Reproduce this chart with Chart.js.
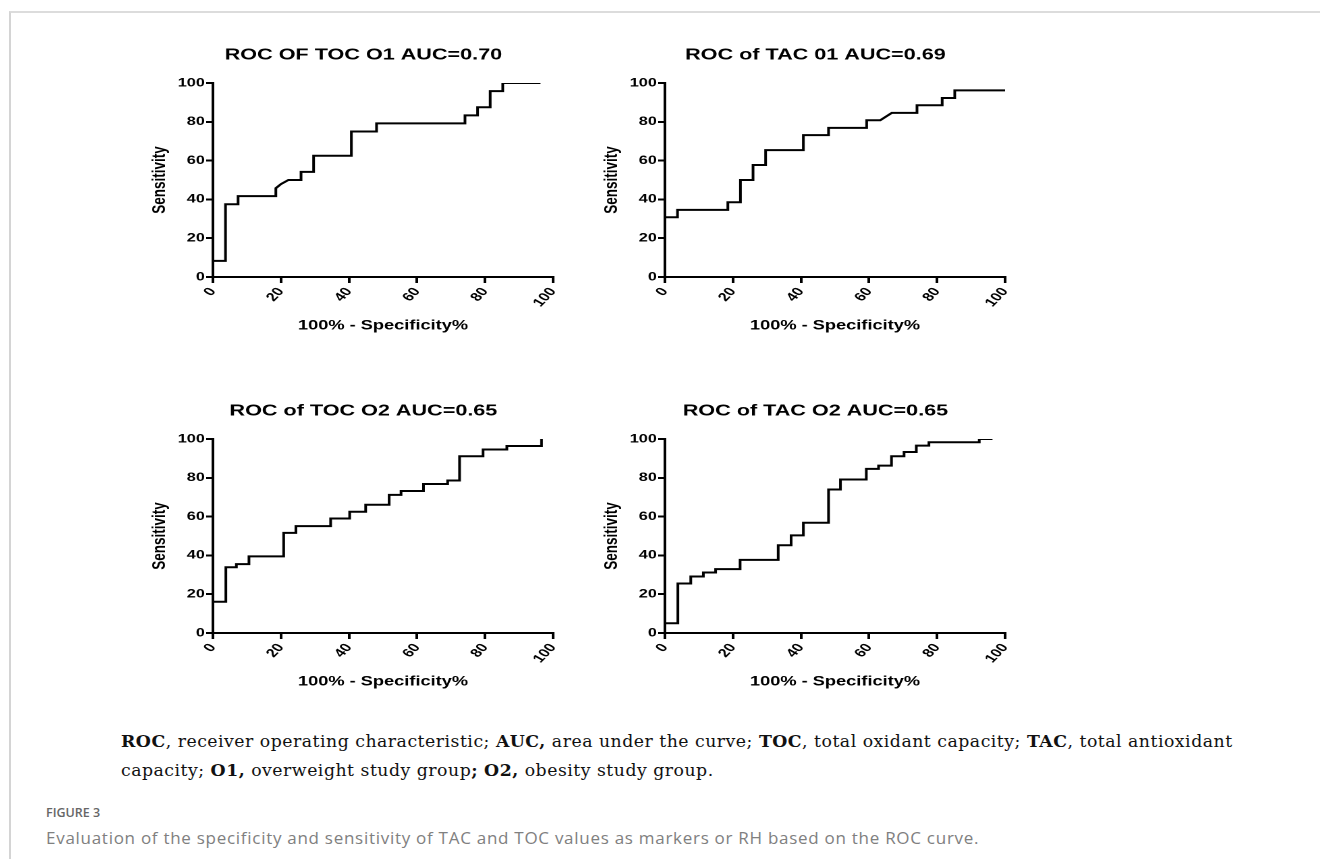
<!DOCTYPE html>
<html>
<head>
<meta charset="utf-8">
<script src="https://cdn.jsdelivr.net/npm/chart.js@4.4.1/dist/chart.umd.min.js"></script>
<style>
  html, body { margin: 0; padding: 0; background: #fff; }
  body { width: 1320px; height: 859px; position: relative; overflow: hidden; }
  .frame { position: absolute; left: 9px; top: 11px; right: -5px; bottom: -5px;
           border-top: 2px solid #dcdcdc; border-left: 2px solid #d4d4d4; }
  .wrap { position: absolute; width: 322px; height: 304px;
          transform: scaleX(1.35); transform-origin: 0 0; }
  .note { position: absolute; left: 121px; font-family: "DejaVu Serif", serif;
          font-size: 17.3px; letter-spacing: 0.5px; line-height: 20px; color: #111; white-space: nowrap; }
  .fig { position: absolute; left: 46px; top: 805px; font-family: "Open Sans", sans-serif;
         font-size: 12.5px; line-height: 16px; font-weight: 600; color: #666; }
  .cap { position: absolute; left: 46px; top: 827px; font-family: "Open Sans", sans-serif;
         font-size: 17px; letter-spacing: 0.72px; line-height: 22px; color: #808080; white-space: nowrap; }
</style>
</head>
<body>
<div class="frame"></div>

<div class="wrap" style="left:140px; top:30px;"><canvas id="c1"></canvas></div>
<div class="wrap" style="left:592px; top:30px;"><canvas id="c2"></canvas></div>
<div class="wrap" style="left:140px; top:386px;"><canvas id="c3"></canvas></div>
<div class="wrap" style="left:592px; top:386px;"><canvas id="c4"></canvas></div>

<div class="note" style="top:731px;"><b>ROC</b>, receiver operating characteristic; <b>AUC,</b> area under the curve; <b>TOC</b>, total oxidant capacity; <b>TAC</b>, total antioxidant</div>
<div class="note" style="top:760px;">capacity; <b>O1,</b> overweight study group<b>;</b> <b>O2,</b> obesity study group.</div>
<div class="fig">FIGURE 3</div>
<div class="cap">Evaluation of the specificity and sensitivity of TAC and TOC values as markers or RH based on the ROC curve.</div>

<script>
// axis ticks
const xTicks = [0, 20, 40, 60, 80, 100];
const yTicks = [0, 20, 40, 60, 80, 100];

// ROC curve vertices (100% - specificity, sensitivity)
const tocO1X = [0, 3.7, 3.7, 7.4, 7.4, 18.5, 18.5, 20, 22.2, 25.9, 25.9, 29.6, 29.6, 40.7, 40.7, 48.1, 48.1, 74.1, 74.1, 77.8, 77.8, 81.5, 81.5, 85.2, 85.2, 96.3];
const tocO1Y = [8.3, 8.3, 37.5, 37.5, 41.7, 41.7, 45.8, 47.9, 50, 50, 54.2, 54.2, 62.5, 62.5, 75, 75, 79.2, 79.2, 83.3, 83.3, 87.5, 87.5, 95.8, 95.8, 100, 100];

const tacO1X = [0, 3.7, 3.7, 18.5, 18.5, 22.2, 22.2, 25.9, 25.9, 29.6, 29.6, 40.7, 40.7, 48.1, 48.1, 59.3, 59.3, 63.3, 66.7, 74.1, 74.1, 81.5, 81.5, 85.2, 85.2, 100];
const tacO1Y = [30.8, 30.8, 34.6, 34.6, 38.5, 38.5, 50, 50, 57.7, 57.7, 65.4, 65.4, 73.1, 73.1, 76.9, 76.9, 80.8, 80.8, 84.6, 84.6, 88.5, 88.5, 92.3, 92.3, 96.2, 96.2];

const tocO2X = [0, 3.8, 3.8, 6.9, 6.9, 10.6, 10.6, 20.8, 20.8, 24.4, 24.4, 34.6, 34.6, 40.2, 40.2, 44.9, 44.9, 51.8, 51.8, 55.3, 55.3, 61.9, 61.9, 69, 69, 72.5, 72.5, 79.4, 79.4, 86.4, 86.4, 96.6, 96.6];
const tocO2Y = [16.1, 16.1, 33.9, 33.9, 35.5, 35.5, 39.5, 39.5, 51.6, 51.6, 55.1, 55.1, 59, 59, 62.5, 62.5, 66.1, 66.1, 71.2, 71.2, 73.2, 73.2, 76.8, 76.8, 78.6, 78.6, 91.1, 91.1, 94.6, 94.6, 96.4, 96.4, 100];

const tacO2X = [0, 3.8, 3.8, 7.6, 7.6, 11.3, 11.3, 14.9, 14.9, 22.1, 22.1, 33.3, 33.3, 37.1, 37.1, 40.7, 40.7, 48.1, 48.1, 51.6, 51.6, 59.2, 59.2, 62.8, 62.8, 66.6, 66.6, 70.3, 70.3, 73.9, 73.9, 77.6, 77.6, 92.4, 92.4, 96.3];
const tacO2Y = [5, 5, 25.5, 25.5, 29.1, 29.1, 31.2, 31.2, 32.9, 32.9, 37.7, 37.7, 45.2, 45.2, 50.3, 50.3, 56.8, 56.8, 74, 74, 79.1, 79.1, 84.6, 84.6, 86.3, 86.3, 91.1, 91.1, 93.3, 93.3, 96.6, 96.6, 98.3, 98.3, 100, 100];

const FONT = '"Liberation Sans", Arial, sans-serif';

function makeChart(id, title, xs, ys) {
  const points = xs.map((x, i) => ({ x: x, y: ys[i] }));
  const axisLine = { display: true, color: '#000', width: 2 };
  const tickMarks = { drawOnChartArea: false, drawTicks: true, color: '#000', lineWidth: 2 };

  return new Chart(document.getElementById(id), {
    type: 'line',
    data: {
      datasets: [{
        data: points,
        borderColor: '#000',
        borderWidth: 2,
        pointRadius: 0,
        tension: 0,
        fill: false
      }]
    },
    options: {
      responsive: true,
      maintainAspectRatio: false,
      devicePixelRatio: 2,
      animation: false,
      // left padding shifts the centred title right; the y axis box is shrunk to match
      layout: { padding: { left: 25, right: 16, top: 0, bottom: 0 } },
      plugins: {
        legend: { display: false },
        tooltip: { enabled: false },
        title: {
          display: true,
          text: title,
          color: '#000',
          font: { family: FONT, size: 16, weight: 'bold' },
          padding: { top: 15.4, bottom: 18.4 }
        }
      },
      scales: {
        x: {
          type: 'linear',
          min: 0,
          max: 100,
          border: axisLine,
          grid: Object.assign({ tickLength: 6 }, tickMarks),
          afterBuildTicks: (s) => { s.ticks = xTicks.map(v => ({ value: v })); },
          afterFit: (s) => { s.height = 57; },
          ticks: {
            color: '#000',
            padding: 2,
            minRotation: 53,
            maxRotation: 53,
            font: { family: FONT, size: 12, weight: 'bold' }
          },
          title: {
            display: true,
            text: '100% - Specificity%',
            color: '#000',
            font: { family: FONT, size: 13.5, weight: 'bold' },
            padding: { top: 0, bottom: 0 }
          }
        },
        y: {
          min: 0,
          max: 100,
          border: axisLine,
          grid: Object.assign({ tickLength: 5 }, tickMarks),
          afterBuildTicks: (s) => { s.ticks = yTicks.map(v => ({ value: v })); },
          afterFit: (s) => { s.width = 29; },
          ticks: {
            color: '#000',
            padding: 1,
            font: { family: FONT, size: 12, weight: 'bold' }
          },
          title: {
            display: true,
            text: 'Sensitivity',
            color: '#000',
            font: { family: FONT, size: 13.5, weight: 'bold' },
            padding: { top: -18.3, bottom: 0 }
          }
        }
      }
    }
  });
}

makeChart('c1', 'ROC OF TOC O1 AUC=0.70', tocO1X, tocO1Y);
makeChart('c2', 'ROC of TAC 01 AUC=0.69', tacO1X, tacO1Y);
makeChart('c3', 'ROC of TOC O2 AUC=0.65', tocO2X, tocO2Y);
makeChart('c4', 'ROC of TAC O2 AUC=0.65', tacO2X, tacO2Y);
</script>
</body>
</html>
